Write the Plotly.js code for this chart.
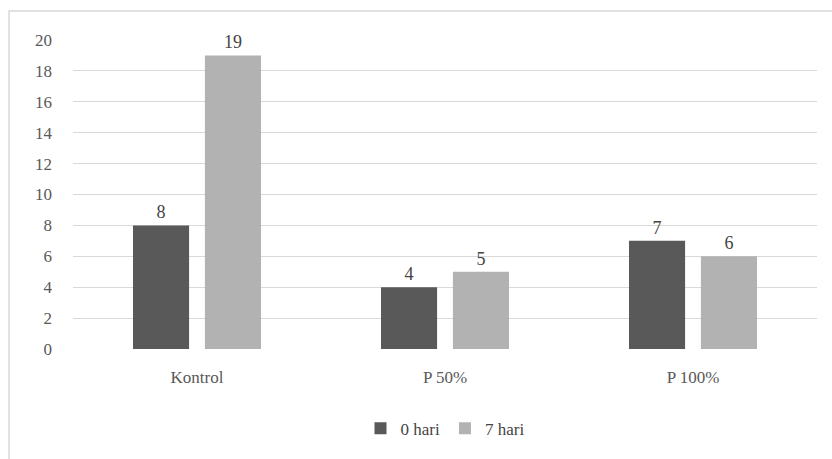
<!DOCTYPE html>
<html><head><meta charset="utf-8">
<script src="https://cdn.plot.ly/plotly-3.0.1.min.js"></script>
<style>body{margin:0;background:#fff}</style>
</head><body><div id="c" style="width:832px;height:459px"></div>
<script>
const categories = ["Kontrol", "P 50%", "P 100%"];
const seriesNames = ["0 hari", "7 hari"];
const hari0 = [8, 4, 7];
const hari7 = [19, 5, 6];
const yTicks = [0, 2, 4, 6, 8, 10, 12, 14, 16, 18, 20];

const traces = [
  {type: "bar", name: seriesNames[0], x: categories, y: hari0, text: hari0.map(String),
   textposition: "outside", cliponaxis: false, marker: {color: "#595959"}, textfont: {size: 18}},
  {type: "bar", name: seriesNames[1], x: categories, y: hari7, text: hari7.map(String),
   textposition: "outside", cliponaxis: false, marker: {color: "#b2b2b2"}, textfont: {size: 18}}
];
const layout = {
  width: 832, height: 459,
  margin: {l: 73, r: 15, t: 40, b: 110},
  font: {family: "Times New Roman", size: 17},
  barmode: "group", bargap: 0.42, bargroupgap: 0.22,
  showlegend: true,
  legend: {orientation: "h", x: 0.5, xanchor: "center", y: -0.2, yanchor: "top"},
  xaxis: {showgrid: false, zeroline: false, showline: false, ticks: "", ticklabelstandoff: 16, tickfont: {color: "#595959"}},
  yaxis: {range: [0, 20], tickvals: yTicks, showgrid: true, gridcolor: "#d9d9d9", gridwidth: 1.3,
          zeroline: false, showline: false, ticks: "", ticklabelstandoff: 20, tickfont: {color: "#595959"}},
  shapes: [{type: "rect", xref: "paper", yref: "paper", x0: -0.086, x1: 1.1, y0: -0.5, y1: 1.094,
            line: {color: "#d9d9d9", width: 1.5}, layer: "below"}]
};
Plotly.newPlot("c", traces, layout, {displayModeBar: false});
</script></body></html>
